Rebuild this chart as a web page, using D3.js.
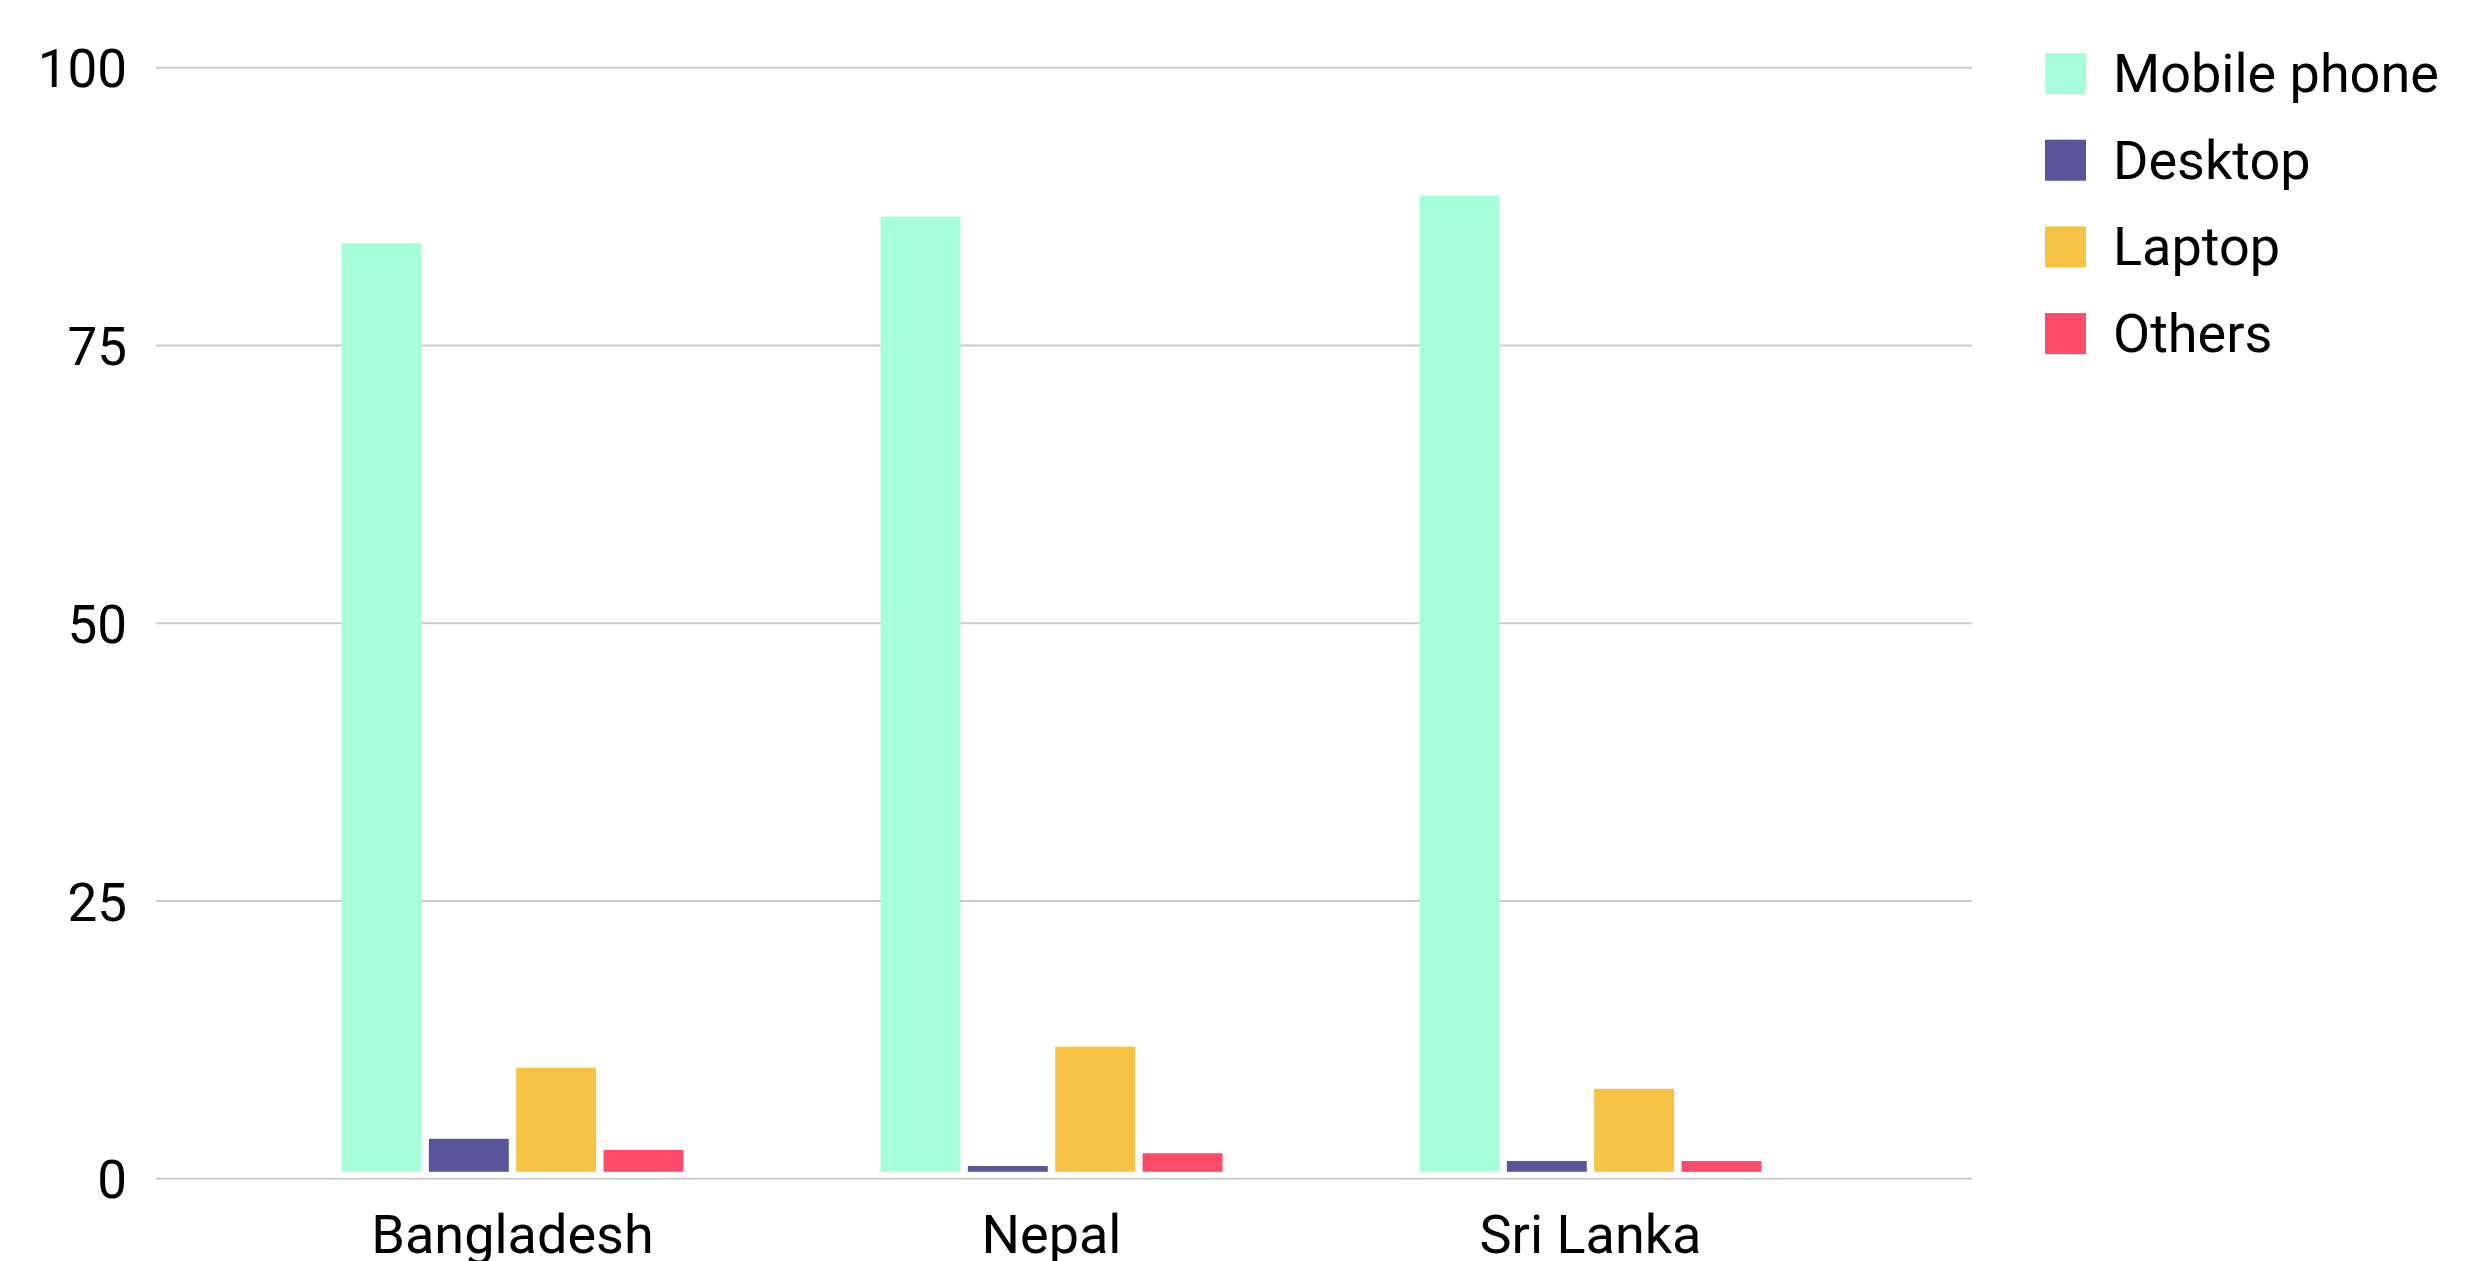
<!DOCTYPE html>
<html>
<head>
<meta charset="utf-8">
<script src="https://cdn.jsdelivr.net/npm/d3@7/dist/d3.min.js"></script>
<style>
  html, body { margin: 0; padding: 0; background: #ffffff; }
  svg { display: block; font-family: Roboto, "Noto Sans", sans-serif; }
</style>
</head>
<body>
<svg id="chart" width="2491" height="1261"></svg>
<script>
const categories = ["Bangladesh", "Nepal", "Sri Lanka"];
const seriesNames = ["Mobile phone", "Desktop", "Laptop", "Others"];
const mobilePhone = [84.2, 86.6, 88.5];
const desktop = [3.6, 1.15, 1.6];
const laptop = [10.0, 11.9, 8.1];
const others = [2.6, 2.3, 1.6];
const yTicks = [0, 25, 50, 75, 100];
const colors = ["#a7ffd9", "#58559b", "#f6c344", "#ff4b6a"];

const seriesValues = [mobilePhone, desktop, laptop, others];
const data = categories.map((c, i) => ({
  category: c,
  values: seriesNames.map((s, j) => ({ series: s, value: seriesValues[j][i] }))
}));

const svg = d3.select("#chart");
const gridLeft = 156, gridRight = 1972;
const y = d3.scaleLinear().domain([0, 100]).range([1178.8, 67.7]);
const x0 = d3.scaleBand().domain(categories).range([243, 1860]).paddingInner(0).paddingOuter(0);
const groupWidth = 342;
const x1 = d3.scaleBand().domain(seriesNames).range([0, groupWidth]).paddingInner(0.085).paddingOuter(0);
const color = d3.scaleOrdinal().domain(seriesNames).range(colors);
const barBaseOffset = 7;

// gridlines
svg.append("g").selectAll("line").data(yTicks).join("line")
  .attr("x1", gridLeft).attr("x2", gridRight)
  .attr("y1", d => y(d)).attr("y2", d => y(d))
  .attr("stroke", "#cccccc").attr("stroke-width", 2);

// y labels
svg.append("g").selectAll("text").data(yTicks).join("text")
  .attr("x", 127).attr("y", d => y(d) + 19.5)
  .attr("text-anchor", "end")
  .attr("font-size", 53).attr("fill", "#000")
  .text(d => d);

// bars
const groups = svg.append("g").selectAll("g").data(data).join("g")
  .attr("transform", d => `translate(${x0(d.category) + x0.bandwidth() / 2 - groupWidth / 2},0)`);
groups.selectAll("rect").data(d => d.values).join("rect")
  .attr("x", d => x1(d.series))
  .attr("width", x1.bandwidth())
  .attr("y", d => y(d.value))
  .attr("height", d => Math.max(0, y(0) - barBaseOffset - y(d.value)))
  .attr("fill", d => color(d.series));

// x labels
svg.append("g").selectAll("text").data(categories).join("text")
  .attr("x", d => x0(d) + x0.bandwidth() / 2)
  .attr("y", 1253)
  .attr("text-anchor", "middle")
  .attr("font-size", 54).attr("fill", "#000")
  .text(d => d);

// legend
const legend = svg.append("g").selectAll("g").data(seriesNames).join("g")
  .attr("transform", (d, i) => `translate(2045, ${53 + i * 86.7})`);
legend.append("rect").attr("width", 41).attr("height", 41).attr("fill", d => color(d));
legend.append("text").attr("x", 68).attr("y", 39)
  .attr("font-size", 54).attr("fill", "#000")
  .text(d => d);
</script>
</body>
</html>
